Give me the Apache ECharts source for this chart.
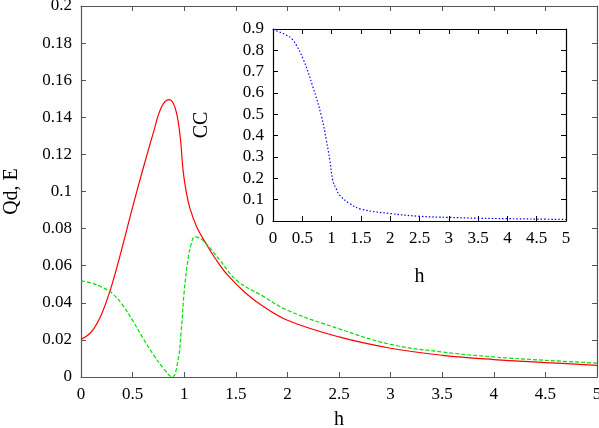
<!DOCTYPE html>
<html>
<head>
<meta charset="utf-8">
<script src="https://cdn.jsdelivr.net/npm/echarts@6/dist/echarts.min.js"></script>
<style>
  html, body { margin: 0; padding: 0; background: #fff; }
  #chart { width: 599px; height: 428px; }
</style>
</head>
<body>
<div id="chart"></div>
<script>
// red solid curve (Qd)
const qdH = [0, 0.1, 0.2, 0.3, 0.4, 0.5, 0.6, 0.7, 0.78, 0.852, 0.91, 0.958, 0.99, 1.023, 1.055, 1.12, 1.2, 1.3, 1.42, 1.6, 1.75, 2.0, 2.5, 3.0, 3.5, 4.0, 4.5, 5.0];
const qdVal = [0.0203, 0.0243, 0.034, 0.0498, 0.070, 0.0916, 0.112, 0.1315, 0.1455, 0.1495, 0.1455, 0.131, 0.111, 0.0989, 0.091, 0.081, 0.073, 0.064, 0.055, 0.045, 0.0387, 0.0306, 0.0216, 0.0155, 0.0117, 0.0094, 0.0078, 0.0063];

// green dashed curve (E)
const eH = [0, 0.1, 0.2, 0.3, 0.4, 0.5, 0.6, 0.7, 0.8, 0.884, 0.94, 0.97, 1.0, 1.04, 1.07, 1.1, 1.18, 1.345, 1.51, 1.75, 2.0, 2.5, 3.0, 3.5, 4.0, 4.5, 5.0];
const eVal = [0.0518, 0.0507, 0.0485, 0.0452, 0.039, 0.0305, 0.021, 0.0122, 0.0045, 0.0, 0.009, 0.024, 0.046, 0.0647, 0.072, 0.0755, 0.0737, 0.063, 0.052, 0.044, 0.036, 0.026, 0.0176, 0.0135, 0.0108, 0.009, 0.0075];

// inset blue dotted curve (CC)
const ccH = [0, 0.2, 0.34, 0.51, 0.68, 0.83, 0.91, 0.97, 1.02, 1.08, 1.14, 1.31, 1.51, 2.0, 2.5, 3.0, 3.5, 4.0, 4.5, 5.0];
const ccVal = [0.897, 0.875, 0.848, 0.762, 0.629, 0.488, 0.379, 0.285, 0.191, 0.15, 0.12, 0.082, 0.055, 0.035, 0.022, 0.017, 0.013, 0.011, 0.009, 0.007];

const pairs = (xs, ys) => xs.map((x, i) => [x, ys[i]]);

const font = "'Liberation Serif', 'DejaVu Serif', serif";
const tickLabel = { fontFamily: font, fontSize: 17, color: '#000' };
const nameStyle = { fontFamily: font, fontSize: 20, color: '#000' };

function xAx(grid, pos, show, lineColor, extra) {
  return Object.assign({
    type: 'value', gridIndex: grid, position: pos, min: 0, max: 5, interval: 0.5,
    axisLine: { show: true, onZero: false, lineStyle: { color: lineColor, width: 1.2 } },
    axisTick: { show: true, inside: true, length: 5, lineStyle: { color: lineColor } },
    axisLabel: show ? Object.assign({ margin: 9 }, tickLabel) : { show: false },
    splitLine: { show: false }
  }, extra || {});
}

function yAx(grid, pos, show, max, interval, lineColor, extra) {
  return Object.assign({
    type: 'value', gridIndex: grid, position: pos, min: 0, max: max, interval: interval,
    axisLine: { show: true, onZero: false, lineStyle: { color: lineColor, width: 1.2 } },
    axisTick: { show: true, inside: true, length: 5, lineStyle: { color: lineColor } },
    axisLabel: show ? Object.assign({ margin: 9 }, tickLabel) : { show: false },
    splitLine: { show: false }
  }, extra || {});
}

const chart = echarts.init(document.getElementById('chart'));
chart.setOption({
  animation: false,
  backgroundColor: '#fff',
  grid: [
    { left: 81, top: 6, width: 516, height: 371, outerBoundsMode: 'none', containLabel: false },
    { left: 273, top: 29, width: 293, height: 192, outerBoundsMode: 'none', containLabel: false, show: true, backgroundColor: '#fff', borderWidth: 0, z: 5 }
  ],
  xAxis: [
    xAx(0, 'bottom', true, '#555', { name: 'h', nameLocation: 'middle', nameGap: 33, nameTextStyle: nameStyle }),
    xAx(0, 'top', false, '#555'),
    xAx(1, 'bottom', true, '#000', { name: 'h', nameLocation: 'middle', nameGap: 46, nameTextStyle: nameStyle, z: 6 }),
    xAx(1, 'top', false, '#000', { z: 6 })
  ],
  yAxis: [
    yAx(0, 'left', true, 0.2, 0.02, '#555', { name: 'Qd, E', nameLocation: 'middle', nameGap: 59, nameTextStyle: nameStyle }),
    yAx(0, 'right', false, 0.2, 0.02, '#555'),
    yAx(1, 'left', true, 0.9, 0.1, '#000', { name: 'CC', nameLocation: 'middle', nameGap: 61, nameTextStyle: nameStyle, z: 6 }),
    yAx(1, 'right', false, 0.9, 0.1, '#000', { z: 6 })
  ],
  series: [
    {
      name: 'Qd', type: 'line', xAxisIndex: 0, yAxisIndex: 0, smooth: 0.4, smoothConstraint: false, showSymbol: false,
      lineStyle: { color: '#ff0000', width: 1.2 },
      data: pairs(qdH, qdVal)
    },
    {
      name: 'E', type: 'line', xAxisIndex: 0, yAxisIndex: 0, smooth: 0.4, smoothConstraint: false, showSymbol: false,
      lineStyle: { color: '#00e000', width: 1.2, type: [4, 2] },
      data: pairs(eH, eVal)
    },
    {
      name: 'CC', type: 'line', xAxisIndex: 2, yAxisIndex: 2, smooth: 0.4, smoothConstraint: false, showSymbol: false, z: 7,
      lineStyle: { color: '#0000ff', width: 1.2, type: [1.5, 2] },
      data: pairs(ccH, ccVal)
    }
  ]
});
</script>
</body>
</html>
